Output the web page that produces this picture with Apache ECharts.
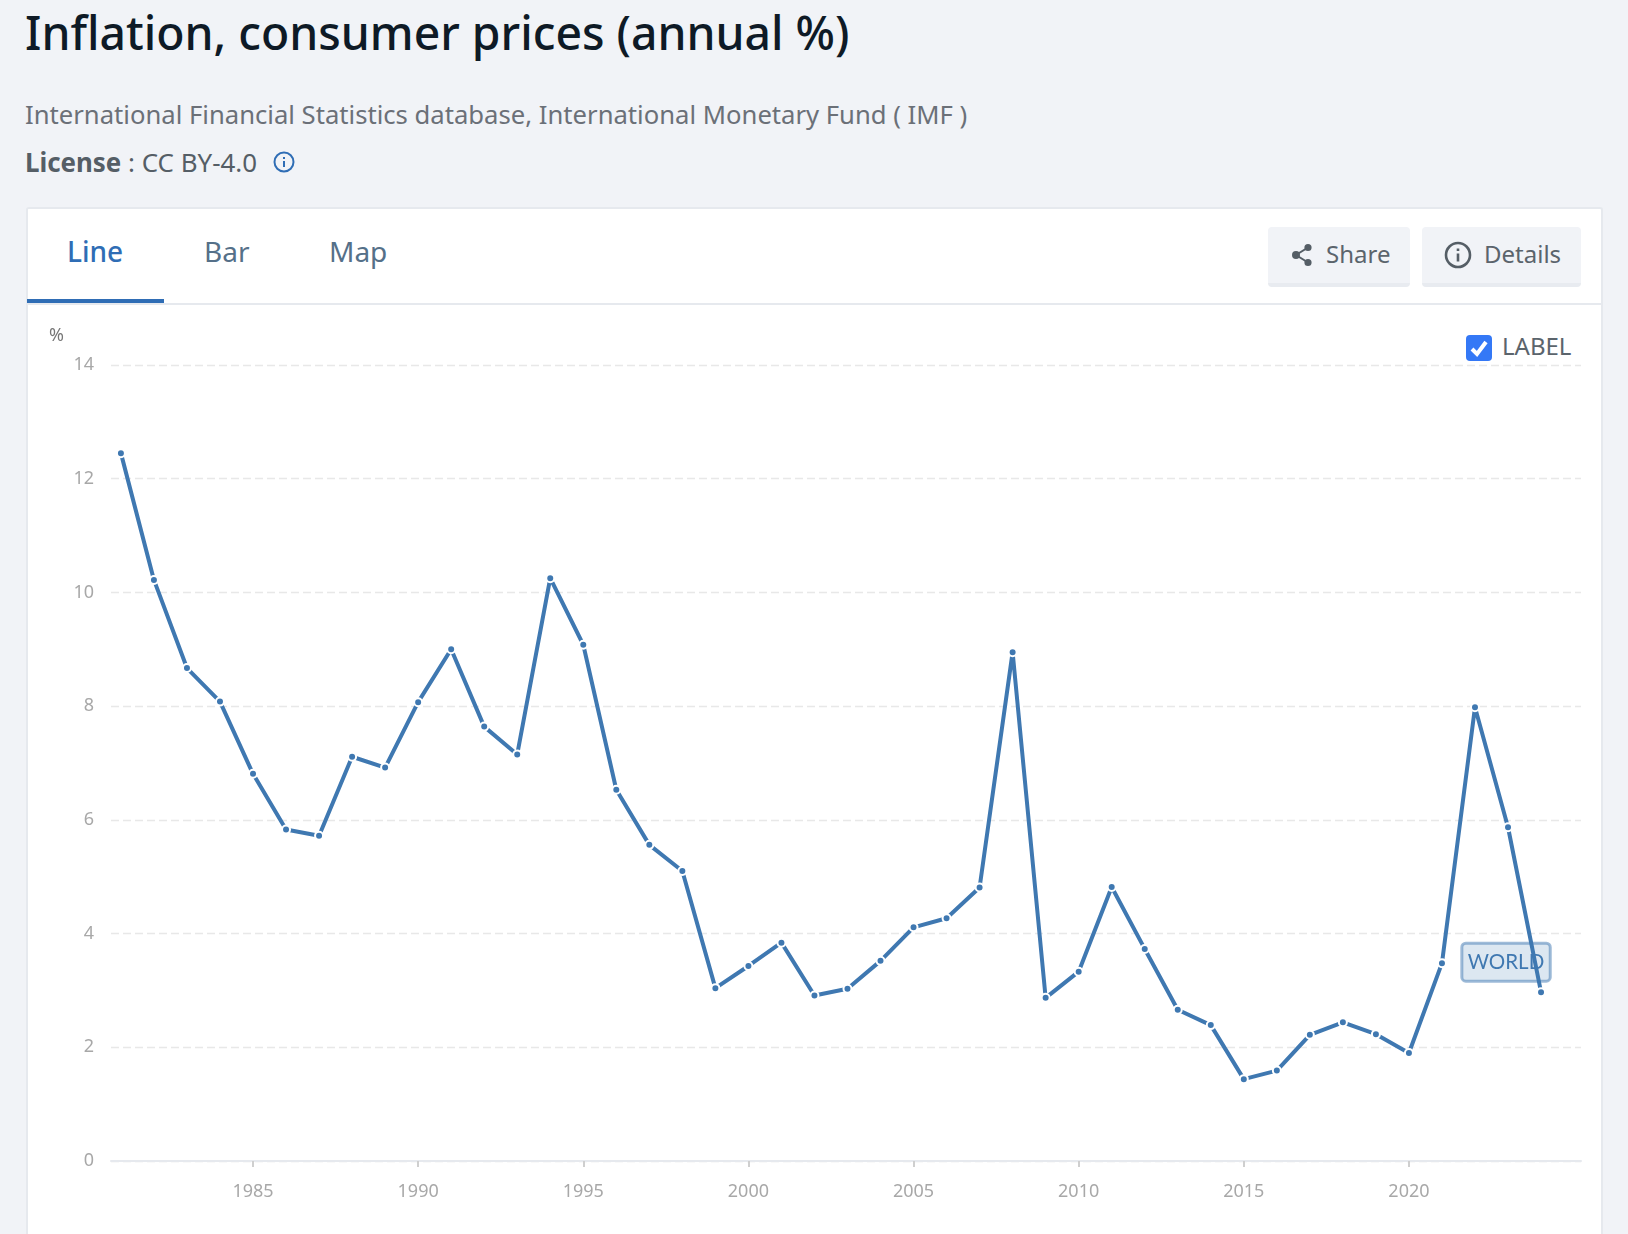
<!DOCTYPE html>
<html><head><meta charset="utf-8">
<script src="https://cdn.jsdelivr.net/npm/echarts@6/dist/echarts.min.js"></script>
<style>
html,body{margin:0;padding:0;width:1628px;height:1234px;overflow:hidden;background:#f1f3f7;font-family:"Noto Sans","Open Sans",sans-serif;}
.abs{position:absolute;white-space:nowrap;line-height:1;}
#title{left:25px;top:10px;font-size:46.3px;font-weight:500;color:#0e1a26;}
#sub{left:25px;top:102px;font-size:25.65px;color:#6b7078;}
#lic{left:25px;top:150px;font-size:25.9px;color:#555e66;}
#lic b{font-weight:700;}
#card{position:absolute;left:26px;top:207px;width:1577px;height:1040px;background:#fff;border:1px solid #e6e9ee;border-width:2px 2px 0 2px;box-sizing:border-box;border-radius:3px 3px 0 0;}
#hr{position:absolute;left:28px;top:303px;width:1573px;height:2px;background:#e6e9ee;}
#ul{position:absolute;left:27px;top:299px;width:137px;height:4px;background:#2f6db5;}
.tab{font-size:28px;color:#557089;top:237px;}
.btn{position:absolute;top:227px;height:60px;background:#f1f3f7;border-bottom:4px solid #e8ebf0;box-sizing:border-box;border-radius:4px;}
.bt{font-size:24px;color:#5b646c;top:242px;}
#chart{position:absolute;left:0;top:0;width:1628px;height:1234px;}
</style></head><body>
<div class="abs" id="title">Inflation, consumer prices (annual %)</div>
<div class="abs" id="sub">International Financial Statistics database, International Monetary Fund ( IMF )</div>
<div class="abs" id="lic"><b>License</b> : CC BY-4.0</div>
<svg class="abs" style="left:272px;top:150px" width="24" height="24" viewBox="0 0 24 24" fill="none" stroke="#2f6db5" stroke-width="2"><circle cx="12" cy="12" r="9.5"/><path d="M12 11v6M12 7v2"/></svg>
<div id="card"></div><div id="hr"></div><div id="ul"></div>
<div class="abs tab" style="left:67px;color:#2f6db5;font-weight:500">Line</div>
<div class="abs tab" style="left:204px">Bar</div>
<div class="abs tab" style="left:329px">Map</div>
<div class="btn" style="left:1268px;width:142px"></div>
<div class="btn" style="left:1422px;width:159px"></div>
<svg class="abs" style="left:1291px;top:243px" width="22" height="24" viewBox="0 0 22 24" fill="#555e66" stroke="#555e66" stroke-width="2"><path d="M17 4.5 5 12l12 7.5" fill="none"/><circle cx="17" cy="4.5" r="2.6"/><circle cx="5" cy="12" r="3"/><circle cx="17" cy="19.5" r="2.6"/></svg>
<div class="abs bt" style="left:1326px">Share</div>
<svg class="abs" style="left:1444px;top:241px" width="28" height="28" viewBox="0 0 28 28" fill="none" stroke="#555e66" stroke-width="2.6"><circle cx="14" cy="14" r="12"/><path d="M14 12.5v8M14 7.5v2.6"/></svg>
<div class="abs bt" style="left:1484px">Details</div>
<svg class="abs" style="left:1466px;top:335px" width="26" height="26" viewBox="0 0 26 26"><rect width="26" height="26" rx="4" fill="#3478f6"/><path d="M6 14l5 5 9-12" fill="none" stroke="#fff" stroke-width="4"/></svg>
<div class="abs bt" style="left:1502px;top:334px">LABEL</div>
<div id="chart"></div>
<script>
const years = [1981,1982,1983,1984,1985,1986,1987,1988,1989,1990,1991,1992,1993,1994,1995,1996,1997,1998,1999,2000,2001,2002,2003,2004,2005,2006,2007,2008,2009,2010,2011,2012,2013,2014,2015,2016,2017,2018,2019,2020,2021,2022,2023,2024];
const inflation = [12.45,10.22,8.67,8.08,6.81,5.83,5.72,7.11,6.92,8.07,9.0,7.64,7.15,10.25,9.08,6.53,5.56,5.10,3.04,3.43,3.84,2.91,3.03,3.52,4.11,4.27,4.81,8.95,2.87,3.33,4.82,3.73,2.66,2.39,1.44,1.59,2.22,2.44,2.23,1.90,3.48,7.98,5.87,2.97];
const xTicks = [1985,1990,1995,2000,2005,2010,2015,2020];
const seriesName = 'WORLD';
const blue = '#3f78b1';
const axisFont = {fontFamily:'"Noto Sans","Open Sans",sans-serif',fontSize:18,color:'#a8a8a8'};
const xMin = 1980.7, xMax = 2025.21;
const chart = echarts.init(document.getElementById('chart'));
chart.setOption({
  animation:false,
  grid:{left:111,right:47,top:365,bottom:73},
  xAxis:[
    {type:'value',position:'bottom',offset:4,min:xMin,max:xMax,
     axisLine:{show:false},splitLine:{show:false},
     axisTick:{show:true,length:6,lineStyle:{color:'#cfcfcf',width:2},customValues:xTicks},
     axisLabel:{...axisFont,margin:18,customValues:xTicks,formatter:v=>String(v)}},
    {type:'value',position:'bottom',min:xMin,max:xMax,
     axisLine:{show:true,lineStyle:{color:'#e6e9ee',width:2}},
     axisTick:{show:false},axisLabel:{show:false},splitLine:{show:false}}
  ],
  yAxis:{type:'value',min:0,max:14,interval:2,name:'%',nameLocation:'end',nameGap:20,
    nameTextStyle:{...axisFont,color:'#777',align:'right',padding:[0,47,0,0]},
    axisLine:{show:false},axisTick:{show:false},
    axisLabel:{...axisFont,margin:17,padding:[3,0,0,0]},
    splitLine:{show:true,lineStyle:{color:'#e8e8e8',width:1.3,type:[8,4]}}},
  series:[{
    name:seriesName,type:'line',xAxisIndex:0,
    data:years.map((y,i)=>i===years.length-1?{
      value:[y,inflation[i]],
      label:{show:true,position:'top',offset:[-35,-1],formatter:seriesName,
        fontFamily:'Lato',fontSize:20.5,color:blue,backgroundColor:'rgba(63,120,177,0.18)',
        borderColor:'rgba(63,120,177,0.5)',borderWidth:1.5,borderRadius:4,padding:[9,6,8,6]}
    }:[y,inflation[i]]),
    symbol:'circle',symbolSize:8,showSymbol:true,showAllSymbol:true,
    lineStyle:{color:blue,width:4},
    itemStyle:{color:blue,borderColor:'#fff',borderWidth:2}
  }]
});
</script>
</body></html>
